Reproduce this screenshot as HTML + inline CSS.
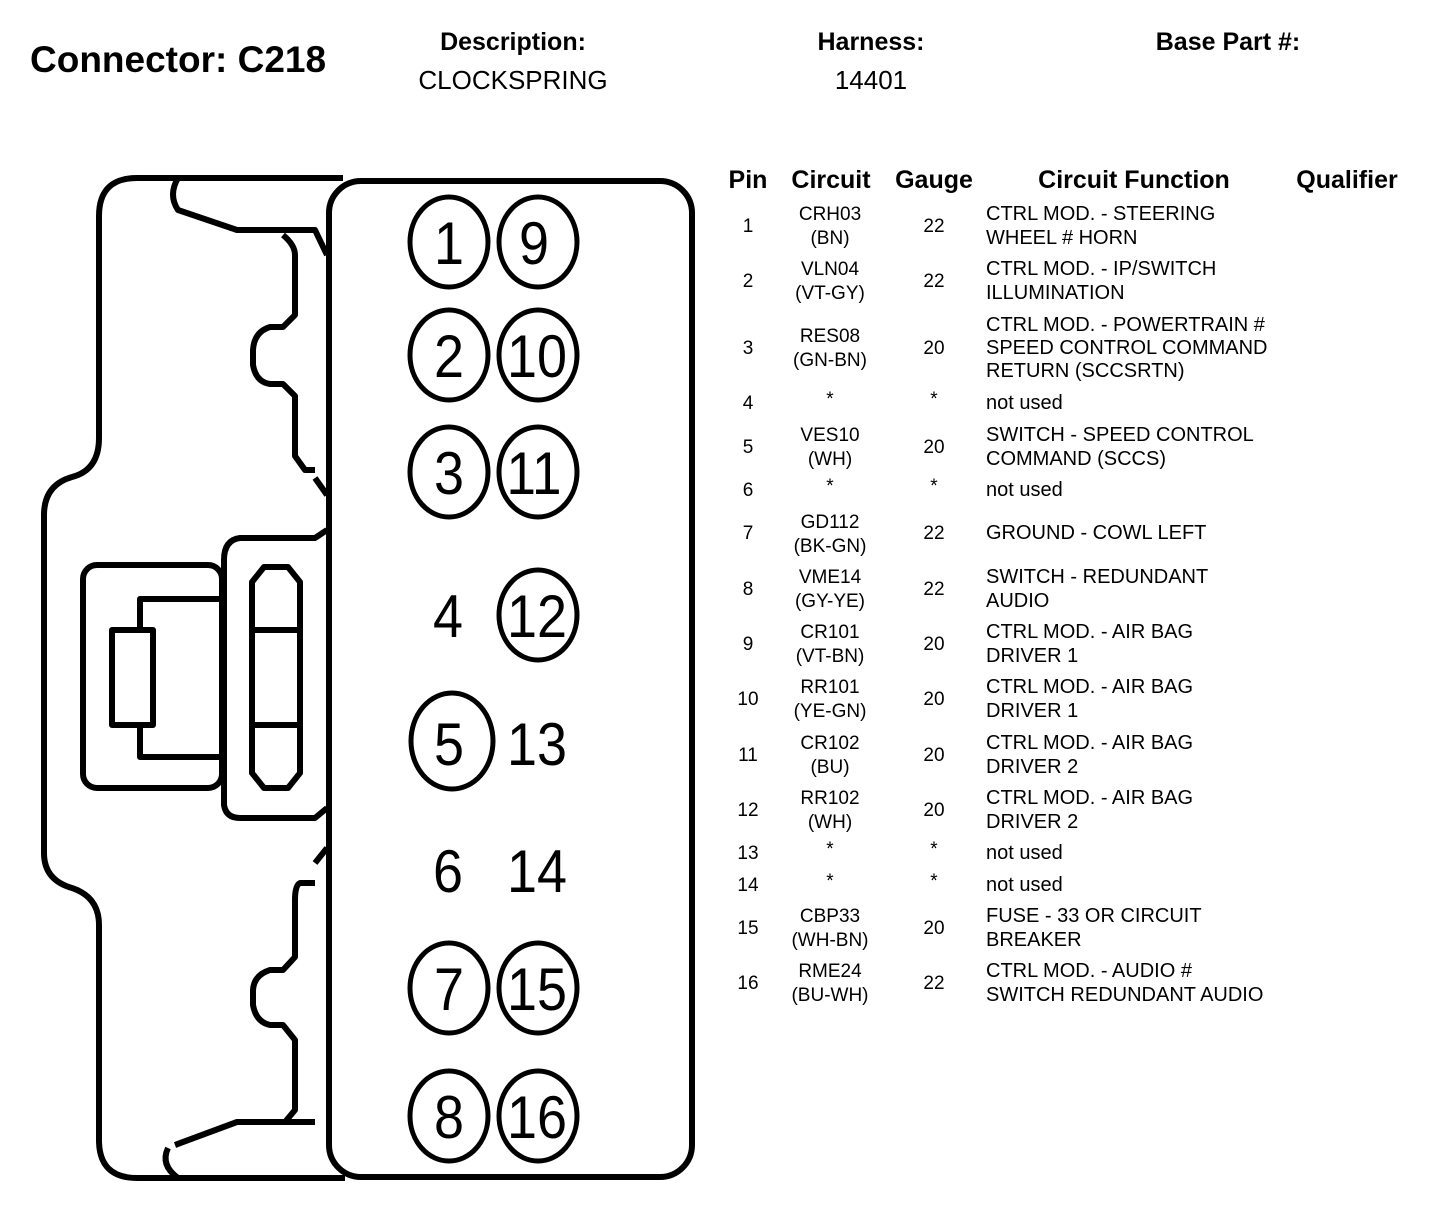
<!DOCTYPE html>
<html><head><meta charset="utf-8"><style>
html,body{margin:0;padding:0;background:#fff;}
svg{display:block;}
text{font-family:"Liberation Sans",Arial,sans-serif;fill:#000;}
</style></head><body>
<svg width="1440" height="1210" viewBox="0 0 1440 1210" xmlns="http://www.w3.org/2000/svg">
<g font-weight="bold">
<text x="30" y="72" font-size="37">Connector: C218</text>
<text x="513" y="50" font-size="25" text-anchor="middle">Description:</text>
<text x="871" y="50" font-size="25" text-anchor="middle">Harness:</text>
<text x="1228" y="50" font-size="25" text-anchor="middle">Base Part #:</text>
</g>
<text x="513" y="89" font-size="26" text-anchor="middle">CLOCKSPRING</text>
<text x="871" y="89" font-size="26" text-anchor="middle">14401</text>

<g fill="none" stroke="#000" stroke-width="6" stroke-linejoin="round">
<path d="M343 178 L137 178 Q99 178 99 216 L99 438 Q99 470 72 477 Q44 485 44 515 L44 853 Q44 880 72 888 Q99 897 99 925 L99 1140 Q99 1178 137 1178 L345 1178"/>
<path d="M178 178 Q168 195 178 210 L237 230 L315 230 L327 255"/>
<path d="M283 235 Q295 245 295 255 L295 315 L283 327 L270 327 Q254 332 253 350 L253 365 Q256 382 270 384 L283 384 L295 396 L295 456 L305 470 L315 470"/>
<path d="M315 478 L327 495"/>
<path d="M315 883 L300 883 Q295 885 295 900 L295 957 L283 970 L270 970 Q254 975 253 990 L253 1005 Q256 1022 270 1025 L283 1025 L295 1040 L295 1110 L285 1122"/>
<path d="M315 1122 L237 1122 L175 1145"/>
<path d="M168 1148 Q160 1165 178 1178"/>
<path d="M315 863 L327 848"/>
<rect x="329" y="181" width="363" height="996" rx="32"/>
<path d="M327 530 L315 538 L240 538 Q224 540 224 560 L224 805 Q226 818 240 818 L315 818 L327 808"/>
<rect x="83" y="565" width="139" height="223" rx="14"/>
<path d="M222 599 L140 599 L140 630 M140 725 L140 757 L222 757"/>
<rect x="112" y="630" width="41" height="95"/>
<path d="M264 567 L288 567 L300 582 L300 773 L288 788 L264 788 L252 773 L252 582 Z"/>
<path d="M252 630 L300 630 M252 725 L300 725"/>
</g>

<g fill="none" stroke="#000" stroke-width="5">
<ellipse cx="449" cy="242" rx="39" ry="45"/>
<ellipse cx="538" cy="242" rx="39" ry="45"/>
<ellipse cx="449" cy="355" rx="39" ry="45"/>
<ellipse cx="538" cy="355" rx="39" ry="45"/>
<ellipse cx="449" cy="472" rx="39" ry="45"/>
<ellipse cx="538" cy="472" rx="39" ry="45"/>
<ellipse cx="538" cy="615" rx="39" ry="45"/>
<ellipse cx="452" cy="741" rx="41" ry="48"/>
<ellipse cx="449" cy="988" rx="39" ry="45"/>
<ellipse cx="538" cy="988" rx="39" ry="45"/>
<ellipse cx="449" cy="1116" rx="39" ry="45"/>
<ellipse cx="538" cy="1116" rx="39" ry="45"/>
</g>
<g font-size="60" text-anchor="middle">
<text x="449" y="264" textLength="30" lengthAdjust="spacingAndGlyphs">1</text>
<text x="534" y="264" textLength="30" lengthAdjust="spacingAndGlyphs">9</text>
<text x="449" y="377" textLength="30" lengthAdjust="spacingAndGlyphs">2</text>
<text x="537" y="377" textLength="60" lengthAdjust="spacingAndGlyphs">10</text>
<text x="449" y="494" textLength="30" lengthAdjust="spacingAndGlyphs">3</text>
<text x="534" y="494" textLength="55" lengthAdjust="spacingAndGlyphs">11</text>
<text x="448" y="637" textLength="30" lengthAdjust="spacingAndGlyphs">4</text>
<text x="537" y="637" textLength="60" lengthAdjust="spacingAndGlyphs">12</text>
<text x="449" y="765" textLength="30" lengthAdjust="spacingAndGlyphs">5</text>
<text x="537" y="765" textLength="60" lengthAdjust="spacingAndGlyphs">13</text>
<text x="448" y="892" textLength="30" lengthAdjust="spacingAndGlyphs">6</text>
<text x="537" y="892" textLength="60" lengthAdjust="spacingAndGlyphs">14</text>
<text x="449" y="1010" textLength="30" lengthAdjust="spacingAndGlyphs">7</text>
<text x="537" y="1010" textLength="60" lengthAdjust="spacingAndGlyphs">15</text>
<text x="449" y="1138" textLength="30" lengthAdjust="spacingAndGlyphs">8</text>
<text x="537" y="1138" textLength="60" lengthAdjust="spacingAndGlyphs">16</text>
</g>

<g font-size="25" font-weight="bold" text-anchor="middle">
<text x="748" y="188">Pin</text>
<text x="831" y="188">Circuit</text>
<text x="934" y="188">Gauge</text>
<text x="1134" y="188">Circuit Function</text>
<text x="1347" y="188">Qualifier</text>
</g>

<g font-size="19">
<g text-anchor="middle">
<text x="748" y="232">1</text><text x="830" y="220">CRH03</text><text x="830" y="244">(BN)</text><text x="934" y="232">22</text>
<text x="748" y="287">2</text><text x="830" y="275">VLN04</text><text x="830" y="299">(VT-GY)</text><text x="934" y="287">22</text>
<text x="748" y="354">3</text><text x="830" y="342">RES08</text><text x="830" y="366">(GN-BN)</text><text x="934" y="354">20</text>
<text x="748" y="409">4</text><text x="830" y="405">*</text><text x="934" y="405">*</text>
<text x="748" y="453">5</text><text x="830" y="441">VES10</text><text x="830" y="465">(WH)</text><text x="934" y="453">20</text>
<text x="748" y="496">6</text><text x="830" y="492">*</text><text x="934" y="492">*</text>
<text x="748" y="539">7</text><text x="830" y="528">GD112</text><text x="830" y="552">(BK-GN)</text><text x="934" y="539">22</text>
<text x="748" y="595">8</text><text x="830" y="583">VME14</text><text x="830" y="607">(GY-YE)</text><text x="934" y="595">22</text>
<text x="748" y="650">9</text><text x="830" y="638">CR101</text><text x="830" y="662">(VT-BN)</text><text x="934" y="650">20</text>
<text x="748" y="705">10</text><text x="830" y="693">RR101</text><text x="830" y="717">(YE-GN)</text><text x="934" y="705">20</text>
<text x="748" y="761">11</text><text x="830" y="749">CR102</text><text x="830" y="773">(BU)</text><text x="934" y="761">20</text>
<text x="748" y="816">12</text><text x="830" y="804">RR102</text><text x="830" y="828">(WH)</text><text x="934" y="816">20</text>
<text x="748" y="859">13</text><text x="830" y="855">*</text><text x="934" y="855">*</text>
<text x="748" y="891">14</text><text x="830" y="887">*</text><text x="934" y="887">*</text>
<text x="748" y="934">15</text><text x="830" y="922">CBP33</text><text x="830" y="946">(WH-BN)</text><text x="934" y="934">20</text>
<text x="748" y="989">16</text><text x="830" y="977">RME24</text><text x="830" y="1001">(BU-WH)</text><text x="934" y="989">22</text>
</g>
<g font-size="20">
<text x="986" y="220">CTRL MOD. - STEERING</text><text x="986" y="244">WHEEL # HORN</text>
<text x="986" y="275">CTRL MOD. - IP/SWITCH</text><text x="986" y="299">ILLUMINATION</text>
<text x="986" y="331">CTRL MOD. - POWERTRAIN #</text><text x="986" y="354">SPEED CONTROL COMMAND</text><text x="986" y="377">RETURN (SCCSRTN)</text>
<text x="986" y="409">not used</text>
<text x="986" y="441">SWITCH - SPEED CONTROL</text><text x="986" y="465">COMMAND (SCCS)</text>
<text x="986" y="496">not used</text>
<text x="986" y="539">GROUND - COWL LEFT</text>
<text x="986" y="583">SWITCH - REDUNDANT</text><text x="986" y="607">AUDIO</text>
<text x="986" y="638">CTRL MOD. - AIR BAG</text><text x="986" y="662">DRIVER 1</text>
<text x="986" y="693">CTRL MOD. - AIR BAG</text><text x="986" y="717">DRIVER 1</text>
<text x="986" y="749">CTRL MOD. - AIR BAG</text><text x="986" y="773">DRIVER 2</text>
<text x="986" y="804">CTRL MOD. - AIR BAG</text><text x="986" y="828">DRIVER 2</text>
<text x="986" y="859">not used</text>
<text x="986" y="891">not used</text>
<text x="986" y="922">FUSE - 33 OR CIRCUIT</text><text x="986" y="946">BREAKER</text>
<text x="986" y="977">CTRL MOD. - AUDIO #</text><text x="986" y="1001">SWITCH REDUNDANT AUDIO</text>
</g>
</g>
</svg>
</body></html>
